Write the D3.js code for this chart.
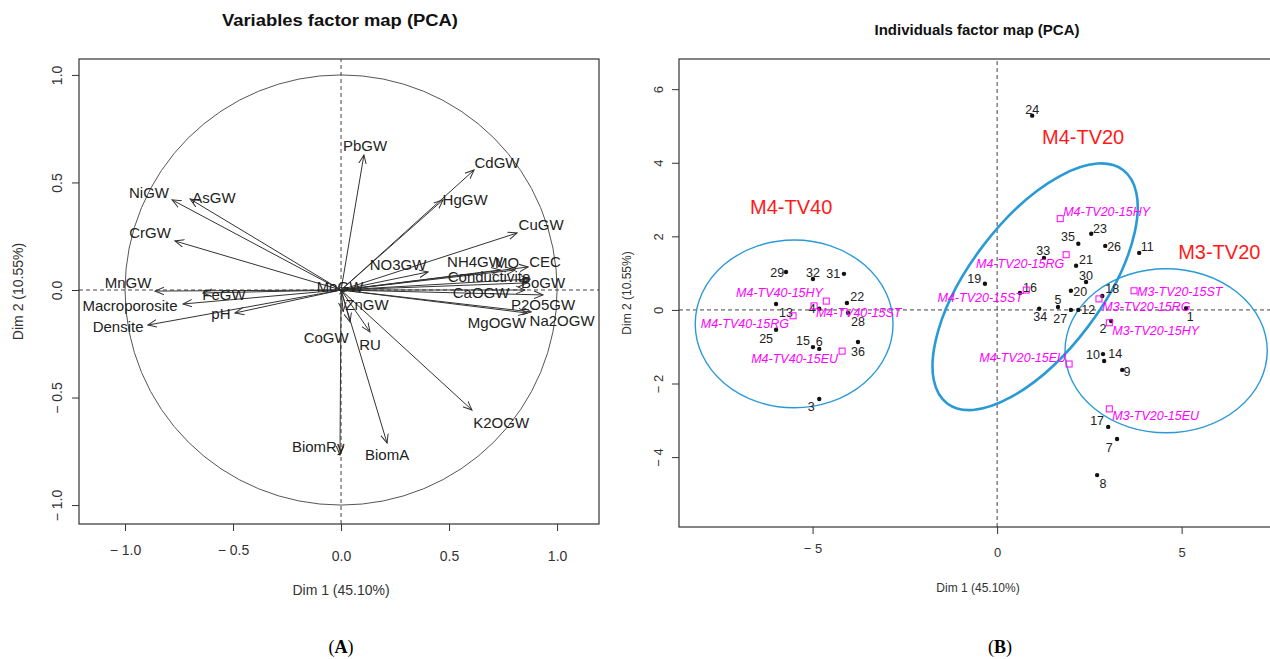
<!DOCTYPE html>
<html>
<head>
<meta charset="utf-8">
<script src="https://cdn.jsdelivr.net/npm/d3@7"></script>
<style>
  body { margin: 0; background: #fff; }
  svg { font-family: "Liberation Sans", Arial, sans-serif; }
</style>
</head>
<body>
<svg id="chart" width="1270" height="659"></svg>
<script>
// ---- panel A : variables (correlation circle) ----
const varNames = ["NiGW", "AsGW", "CrGW", "MnGW", "FeGW", "Macroporosite", "pH", "Densite", "MoGW",
  "PbGW", "CdGW", "HgGW", "CuGW", "NO3GW", "NH4GW", "MO", "CEC", "Conductivite", "BoGW",
  "CaOGW", "P2O5GW", "MgOGW", "Na2OGW", "ZnGW", "CoGW", "RU", "BiomRy", "BiomA", "K2OGW"];
const varDim1 = [-0.782, -0.699, -0.769, -0.861, -0.639, -0.731, -0.491, -0.894, 0.03,
  0.106, 0.616, 0.472, 0.815, 0.403, 0.736, 0.806, 0.866, 0.875, 0.861,
  0.852, 0.935, 0.861, 0.880, 0.042, 0.01, 0.134, -0.005, 0.213, 0.606];
const varDim2 = [0.419, 0.423, 0.228, -0.005, -0.014, -0.065, -0.107, -0.163, 0.005,
  0.628, 0.558, 0.419, 0.265, 0.084, 0.093, 0.093, 0.107, 0.051, 0.033,
  0.0, -0.023, -0.107, -0.102, -0.149, -0.10, -0.195, -0.767, -0.712, -0.558];
// where each label sits (same units)
const varLabDim1 = [-0.889, -0.588, -0.884, -0.986, -0.542, -0.977, -0.556, -1.032, -0.005,
  0.111, 0.722, 0.574, 0.926, 0.264, 0.620, 0.769, 0.944, 0.685, 0.935,
  0.648, 0.935, 0.722, 1.023, 0.120, -0.069, 0.134, -0.106, 0.213, 0.741];
const varLabDim2 = [0.451, 0.428, 0.265, 0.033, -0.023, -0.074, -0.112, -0.172, 0.014,
  0.670, 0.591, 0.419, 0.302, 0.116, 0.130, 0.126, 0.130, 0.060, 0.033,
  -0.014, -0.070, -0.153, -0.144, -0.070, -0.223, -0.256, -0.730, -0.767, -0.619];
const varTicks = [-1, -0.5, 0, 0.5, 1];

// ---- panel B : individuals ----
const indNames = ["29", "32", "31", "22", "13", "4", "28", "25", "15", "6", "36", "3",
  "24", "23", "35", "26", "33", "21", "19", "30", "16", "20", "18", "5", "34", "27", "12",
  "2", "11", "1", "10", "14", "9", "17", "7", "8"];
const indDim1 = [-5.72, -4.99, -4.15, -4.07, -5.99, -4.82, -4.04, -5.99, -4.99, -4.82, -3.77, -4.82,
  0.95, 2.55, 2.20, 2.93, 1.27, 2.14, -0.33, 2.41, 0.62, 2.00, 2.85, 1.65, 1.14, 2.00, 2.20,
  3.09, 3.85, 5.12, 2.87, 2.90, 3.39, 3.01, 3.25, 2.71];
const indDim2 = [1.03, 0.84, 0.98, 0.19, 0.16, 0.03, -0.08, -0.54, -1.01, -1.06, -0.87, -2.42,
  5.28, 2.07, 1.80, 1.74, 1.41, 1.20, 0.71, 0.76, 0.46, 0.52, 0.38, 0.08, 0.03, 0.0, 0.0,
  -0.30, 1.55, 0.05, -1.20, -1.39, -1.63, -3.18, -3.51, -4.49];
const indLabDim1 = [-5.96, -4.99, -4.44, -3.79, -5.72, -5.01, -3.77, -6.26, -5.26, -4.82, -3.77, -5.04,
  0.95, 2.79, 1.92, 3.17, 1.25, 2.41, -0.62, 2.41, 0.89, 2.25, 3.12, 1.65, 1.17, 1.71, 2.47,
  2.87, 4.07, 5.23, 2.60, 3.20, 3.52, 2.71, 3.04, 2.87];
const indLabDim2 = [1.01, 1.01, 0.98, 0.35, -0.08, 0.03, -0.33, -0.79, -0.84, -0.87, -1.12, -2.64,
  5.44, 2.20, 1.99, 1.71, 1.61, 1.36, 0.84, 0.93, 0.60, 0.49, 0.57, 0.27, -0.19, -0.24, 0.0,
  -0.52, 1.71, -0.19, -1.22, -1.20, -1.69, -3.02, -3.73, -4.71];

// supplementary (mean) points
const supNames = ["M4-TV40-15HY", "M4-TV40-15RG", "M4-TV40-15ST", "M4-TV40-15EU",
  "M4-TV20-15HY", "M4-TV20-15RG", "M4-TV20-15ST", "M4-TV20-15EU",
  "M3-TV20-15ST", "M3-TV20-15RG", "M3-TV20-15HY", "M3-TV20-15EU"];
const supDim1 = [-4.63, -5.53, -4.96, -4.20, 1.71, 1.87, 0.79, 1.95, 3.71, 2.76, 3.04, 3.04];
const supDim2 = [0.24, -0.16, 0.11, -1.12, 2.48, 1.50, 0.54, -1.47, 0.52, 0.30, -0.35, -2.69];
const supLabDim1 = [-4.72, -5.64, -4.91, -4.31, 1.79, 1.82, 0.70, 1.87, 3.79, 2.85, 3.12, 3.12];
const supLabDim2 = [0.46, -0.38, -0.08, -1.33, 2.67, 1.25, 0.33, -1.31, 0.49, 0.08, -0.57, -2.88];
const supLabSide = ["end", "end", "start", "end", "start", "end", "end", "end", "start", "start", "start", "start"];

// groups and their ellipses
const groupNames = ["M4-TV40", "M4-TV20", "M3-TV20"];
const ellCx = [-5.5, 1.03, 4.58];
const ellCy = [-0.38, 0.63, -1.11];
const ellRx = [2.68, 3.96, 2.74];
const ellRy = [2.28, 1.80, 2.23];
const ellAngle = [0, 53, 0];
const groupLabDim1 = [-5.58, 2.33, 6.02];
const groupLabDim2 = [2.80, 4.71, 1.58];

const indTicksX = [-5, 0, 5];
const indTicksY = [-4, -2, 0, 2, 4, 6];

const svg = d3.select("#chart");
const ink = "#333";

function minusFmt(f) {
  return d => d < 0 ? "\u2212 " + f(-d) : f(d);
}

// ================= panel A =================
const xL = d3.scaleLinear().domain([-1.213, 1.194]).range([79, 599]);
const yL = d3.scaleLinear().domain([-1.088, 1.074]).range([524, 59]);

svg.append("defs").append("marker")
  .attr("id", "arr")
  .attr("viewBox", "0 0 10 10")
  .attr("refX", 9).attr("refY", 5)
  .attr("markerWidth", 10).attr("markerHeight", 10)
  .attr("markerUnits", "userSpaceOnUse")
  .attr("orient", "auto")
  .append("path")
  .attr("d", "M0,1.2 L9,5 L0,8.8")
  .attr("fill", "none")
  .attr("stroke", "#333")
  .attr("stroke-width", 1);

const gA = svg.append("g");

gA.append("ellipse")
  .attr("cx", xL(0)).attr("cy", yL(0))
  .attr("rx", xL(1) - xL(0)).attr("ry", yL(0) - yL(1))
  .attr("fill", "none").attr("stroke", "#555").attr("stroke-width", 1);

gA.append("line")
  .attr("x1", xL.range()[0]).attr("x2", xL.range()[1])
  .attr("y1", yL(0)).attr("y2", yL(0))
  .attr("stroke", "#444").attr("stroke-dasharray", "4,3");
gA.append("line")
  .attr("x1", xL(0)).attr("x2", xL(0))
  .attr("y1", yL.range()[0]).attr("y2", yL.range()[1])
  .attr("stroke", "#444").attr("stroke-dasharray", "4,3");

gA.selectAll("line.arrow")
  .data(varNames)
  .enter()
  .append("line")
  .attr("class", "arrow")
  .attr("x1", xL(0)).attr("y1", yL(0))
  .attr("x2", (d, i) => xL(varDim1[i]))
  .attr("y2", (d, i) => yL(varDim2[i]))
  .attr("stroke", "#333")
  .attr("stroke-width", 1)
  .attr("marker-end", "url(#arr)");

gA.selectAll("text.vlab")
  .data(varNames)
  .enter()
  .append("text")
  .attr("class", "vlab")
  .attr("x", (d, i) => xL(varLabDim1[i]))
  .attr("y", (d, i) => yL(varLabDim2[i]))
  .attr("dy", "0.35em")
  .attr("text-anchor", "middle")
  .attr("font-size", 15)
  .attr("fill", "#222")
  .text(d => d);

gA.append("rect")
  .attr("x", xL.range()[0]).attr("y", yL.range()[1])
  .attr("width", xL.range()[1] - xL.range()[0])
  .attr("height", yL.range()[0] - yL.range()[1])
  .attr("fill", "none").attr("stroke", ink).attr("stroke-width", 1.2);

const axA_x = gA.append("g")
  .attr("transform", `translate(0,${yL.range()[0]})`)
  .call(d3.axisBottom(xL).tickValues(varTicks).tickSize(7).tickFormat(minusFmt(d3.format(".1f"))));
axA_x.select(".domain").remove();
axA_x.selectAll("line").attr("stroke", ink);
axA_x.selectAll("text")
  .attr("font-size", 14).attr("fill", "#333")
  .attr("y", d => d < 0 ? 21 : 27);

const axA_y = gA.append("g")
  .attr("transform", `translate(${xL.range()[0]},0)`)
  .call(d3.axisLeft(yL).tickValues(varTicks).tickSize(7).tickFormat(minusFmt(d3.format(".1f"))));
axA_y.select(".domain").remove();
axA_y.selectAll("line").attr("stroke", ink);
axA_y.selectAll("text")
  .attr("font-size", 14).attr("fill", "#333")
  .attr("transform", "rotate(-90)")
  .attr("x", 0).attr("y", -22).attr("dy", "0.35em")
  .attr("text-anchor", "middle");

gA.append("text")
  .attr("x", xL(0)).attr("y", 590).attr("dy", "0.35em")
  .attr("text-anchor", "middle").attr("font-size", 14).attr("fill", "#333")
  .text("Dim 1 (45.10%)");
gA.append("text")
  .attr("transform", `translate(18,${(yL.range()[0] + yL.range()[1]) / 2}) rotate(-90)`)
  .attr("dy", "0.35em")
  .attr("text-anchor", "middle").attr("font-size", 14).attr("fill", "#333")
  .text("Dim 2 (10.55%)");
gA.append("text")
  .attr("x", 340).attr("y", 20).attr("dy", "0.35em")
  .attr("text-anchor", "middle").attr("font-size", 16).attr("font-weight", "bold")
  .attr("textLength", 236).attr("lengthAdjust", "spacingAndGlyphs")
  .attr("fill", "#111")
  .text("Variables factor map (PCA)");

// ================= panel B =================
const xR = d3.scaleLinear().domain([-8.62, 7.53]).range([679, 1275]);
const yR = d3.scaleLinear().domain([-5.90, 6.82]).range([527, 59]);

const gB = svg.append("g");
gB.append("clipPath").attr("id", "clipB").append("rect")
  .attr("x", 679).attr("y", 59).attr("width", 596).attr("height", 468);
const plotB = gB.append("g").attr("clip-path", "url(#clipB)");

plotB.append("line")
  .attr("x1", xR.range()[0]).attr("x2", xR.range()[1])
  .attr("y1", yR(0)).attr("y2", yR(0))
  .attr("stroke", "#444").attr("stroke-dasharray", "4,3");
plotB.append("line")
  .attr("x1", xR(0)).attr("x2", xR(0))
  .attr("y1", yR.range()[0]).attr("y2", yR.range()[1])
  .attr("stroke", "#444").attr("stroke-dasharray", "4,3");

// ellipses
plotB.selectAll("ellipse.grp")
  .data(groupNames)
  .enter()
  .append("ellipse")
  .attr("class", "grp")
  .attr("transform", (d, i) => `translate(${xR(ellCx[i])},${yR(ellCy[i])}) rotate(${-ellAngle[i]})`)
  .attr("rx", (d, i) => xR(ellRx[i]) - xR(0))
  .attr("ry", (d, i) => yR(0) - yR(ellRy[i]))
  .attr("fill", "none")
  .attr("stroke", "#2a9ad6")
  .attr("stroke-width", (d, i) => ellAngle[i] !== 0 ? 2.6 : 1.4);

// individuals
plotB.selectAll("circle.ind")
  .data(indNames)
  .enter()
  .append("circle")
  .attr("class", "ind")
  .attr("cx", (d, i) => xR(indDim1[i]))
  .attr("cy", (d, i) => yR(indDim2[i]))
  .attr("r", 2.2)
  .attr("fill", "#111");

plotB.selectAll("text.ilab")
  .data(indNames)
  .enter()
  .append("text")
  .attr("class", "ilab")
  .attr("x", (d, i) => xR(indLabDim1[i]))
  .attr("y", (d, i) => yR(indLabDim2[i]))
  .attr("dy", "0.35em")
  .attr("text-anchor", "middle")
  .attr("font-size", 12.5)
  .attr("fill", "#222")
  .text(d => d);

// supplementary points
plotB.selectAll("rect.sup")
  .data(supNames)
  .enter()
  .append("rect")
  .attr("class", "sup")
  .attr("x", (d, i) => xR(supDim1[i]) - 3)
  .attr("y", (d, i) => yR(supDim2[i]) - 3)
  .attr("width", 6).attr("height", 6)
  .attr("fill", "none")
  .attr("stroke", "#ff00ff")
  .attr("stroke-width", 1);

plotB.selectAll("text.slab")
  .data(supNames)
  .enter()
  .append("text")
  .attr("class", "slab")
  .attr("x", (d, i) => xR(supLabDim1[i]))
  .attr("y", (d, i) => yR(supLabDim2[i]))
  .attr("dy", "0.35em")
  .attr("text-anchor", (d, i) => supLabSide[i])
  .attr("font-size", 12.5)
  .attr("font-style", "italic")
  .attr("fill", "#ff00ff")
  .text(d => d);

plotB.selectAll("text.glab")
  .data(groupNames)
  .enter()
  .append("text")
  .attr("class", "glab")
  .attr("x", (d, i) => xR(groupLabDim1[i]))
  .attr("y", (d, i) => yR(groupLabDim2[i]))
  .attr("dy", "0.35em")
  .attr("text-anchor", "middle")
  .attr("font-size", 20)
  .attr("fill", "#ff1a1a")
  .text(d => d);

gB.append("rect")
  .attr("x", xR.range()[0]).attr("y", yR.range()[1])
  .attr("width", xR.range()[1] - xR.range()[0])
  .attr("height", yR.range()[0] - yR.range()[1])
  .attr("fill", "none").attr("stroke", ink).attr("stroke-width", 1.2);

const axB_x = gB.append("g")
  .attr("transform", `translate(0,${yR.range()[0]})`)
  .call(d3.axisBottom(xR).tickValues(indTicksX).tickSize(7).tickFormat(minusFmt(d3.format("d"))));
axB_x.select(".domain").remove();
axB_x.selectAll("line").attr("stroke", ink);
axB_x.selectAll("text")
  .attr("font-size", 13).attr("fill", "#333")
  .attr("y", d => d < 0 ? 17 : 21);

const axB_y = gB.append("g")
  .attr("transform", `translate(${xR.range()[0]},0)`)
  .call(d3.axisLeft(yR).tickValues(indTicksY).tickSize(7).tickFormat(minusFmt(d3.format("d"))));
axB_y.select(".domain").remove();
axB_y.selectAll("line").attr("stroke", ink);
axB_y.selectAll("text")
  .attr("font-size", 13).attr("fill", "#333")
  .attr("transform", "rotate(-90)")
  .attr("x", 0).attr("y", -21).attr("dy", "0.35em")
  .attr("text-anchor", "middle");

gB.append("text")
  .attr("x", 978).attr("y", 588).attr("dy", "0.35em")
  .attr("text-anchor", "middle").attr("font-size", 12).attr("fill", "#333")
  .text("Dim 1 (45.10%)");
gB.append("text")
  .attr("transform", `translate(627,${(yR.range()[0] + yR.range()[1]) / 2}) rotate(-90)`)
  .attr("dy", "0.35em")
  .attr("text-anchor", "middle").attr("font-size", 12).attr("fill", "#333")
  .text("Dim 2 (10.55%)");
gB.append("text")
  .attr("x", 977).attr("y", 30).attr("dy", "0.35em")
  .attr("text-anchor", "middle").attr("font-size", 14).attr("font-weight", "bold")
  .attr("textLength", 205).attr("lengthAdjust", "spacingAndGlyphs")
  .attr("fill", "#111")
  .text("Individuals factor map (PCA)");

// panel letters
[["A", 341], ["B", 1000]].forEach(([l, x]) => {
  const t = svg.append("text")
    .attr("x", x).attr("y", 647).attr("dy", "0.35em")
    .attr("text-anchor", "middle")
    .attr("font-family", "'Liberation Serif', 'Times New Roman', serif")
    .attr("font-size", 18).attr("fill", "#000");
  t.append("tspan").text("(");
  t.append("tspan").attr("font-weight", "bold").text(l);
  t.append("tspan").text(")");
});
</script>
</body>
</html>
